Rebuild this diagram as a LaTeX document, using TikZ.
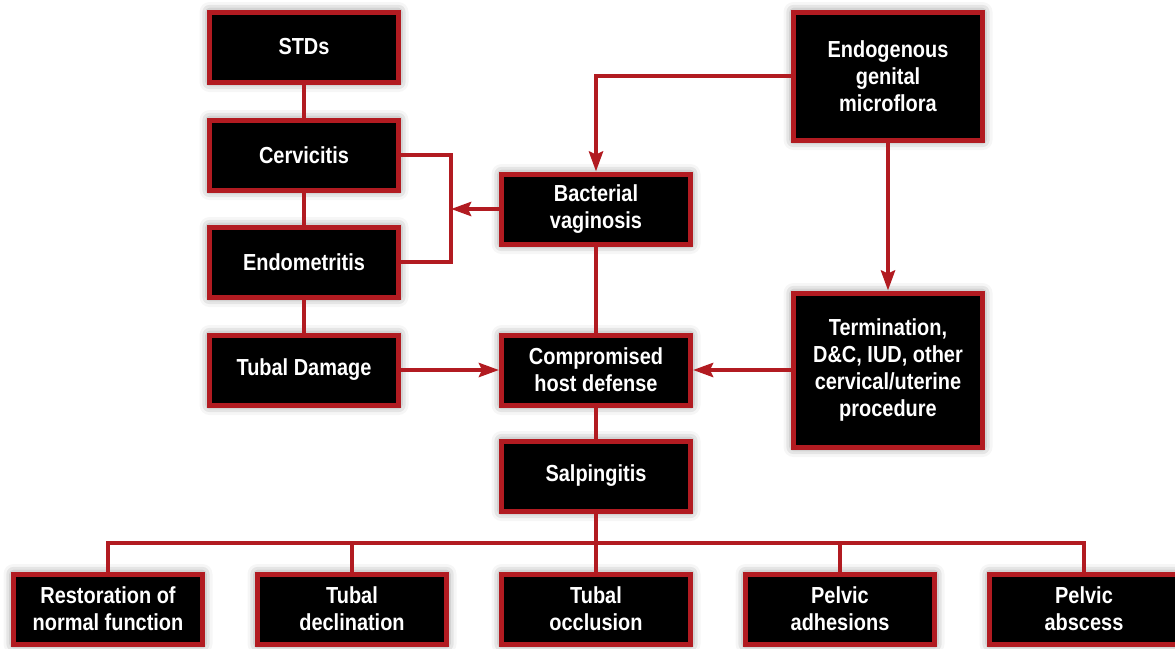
\documentclass[tikz,border=0pt]{standalone}
\usepackage{fontspec}
\setmainfont[FakeStretch=0.86]{Liberation Sans}
\usepackage{tikz}
\usetikzlibrary{arrows.meta,shadows.blur}
\definecolor{pidred}{RGB}{178,27,33}
\tikzset{
  box/.style={draw=pidred, fill=black, line width=2.5pt, text=white,
    font=\bfseries\fontsize{11.6}{13.5}\selectfont, align=center,
    minimum width=94.5pt, minimum height=35pt, inner sep=2pt,
    blur shadow={shadow xshift=0pt, shadow yshift=0pt,
      shadow blur radius=5pt, shadow opacity=55}},
  link/.style={draw=pidred, line width=2pt},
  arrow/.style={link, -{Stealth[length=10pt,width=7pt,inset=1.5pt]}}
}

\begin{document}
\begin{tikzpicture}[x=0.5pt,y=-0.5pt]
  \useasboundingbox (0,0) rectangle (1175,649);

  % Left column
  \node[box] (stds) at (304,47) {STDs};
  \node[box] (cervicitis) at (304,155) {Cervicitis};
  \node[box] (endometritis) at (304,262) {Endometritis};
  \node[box] (tubal) at (304,370) {Tubal Damage};

  % Middle column
  \node[box] (vaginosis) at (596,209) {Bacterial\\vaginosis};
  \node[box] (defense) at (596,370) {Compromised\\host defense};
  \node[box] (salpingitis) at (596,476) {Salpingitis};

  % Right column
  \node[box, minimum height=64pt] (microflora) at (888,76) {Endogenous\\genital\\microflora};
  \node[box, minimum height=77pt] (procedure) at (888,370) {Termination,\\D\&C, IUD, other\\cervical/uterine\\procedure};

  % Outcomes
  \node[box] (restore) at (108,609) {Restoration of\\normal function};
  \node[box] (declination) at (352,609) {Tubal\\declination};
  \node[box] (occlusion) at (596,609) {Tubal\\occlusion};
  \node[box] (adhesions) at (840,609) {Pelvic\\adhesions};
  \node[box] (abscess) at (1084,609) {Pelvic\\abscess};

  % Links
  \draw[link] (stds) -- (cervicitis);
  \draw[link] (cervicitis) -- (endometritis);
  \draw[link] (endometritis) -- (tubal);
  \coordinate (bracket) at (451,209);
  \draw[link] (cervicitis.east) -- (cervicitis.east -| bracket) -- (endometritis.east -| bracket) -- (endometritis.east);
  \draw[arrow] (vaginosis.west) -- (bracket);
  \draw[arrow] (microflora.west) -| (vaginosis.north);
  \draw[arrow] (microflora.south) -- (procedure.north);
  \draw[arrow] (procedure.west) -- (defense.east);
  \draw[arrow] (tubal.east) -- (defense.west);
  \draw[link] (vaginosis.south) -- (defense.north);
  \draw[link] (defense.south) -- (salpingitis.north);

  % Outcome bus
  \coordinate (bus) at (596,543);
  \draw[link] (salpingitis.south) -- (bus);
  \foreach \n in {restore,declination,occlusion,adhesions,abscess}
    \draw[link] (\n.north) |- (bus);
\end{tikzpicture}
\end{document}
